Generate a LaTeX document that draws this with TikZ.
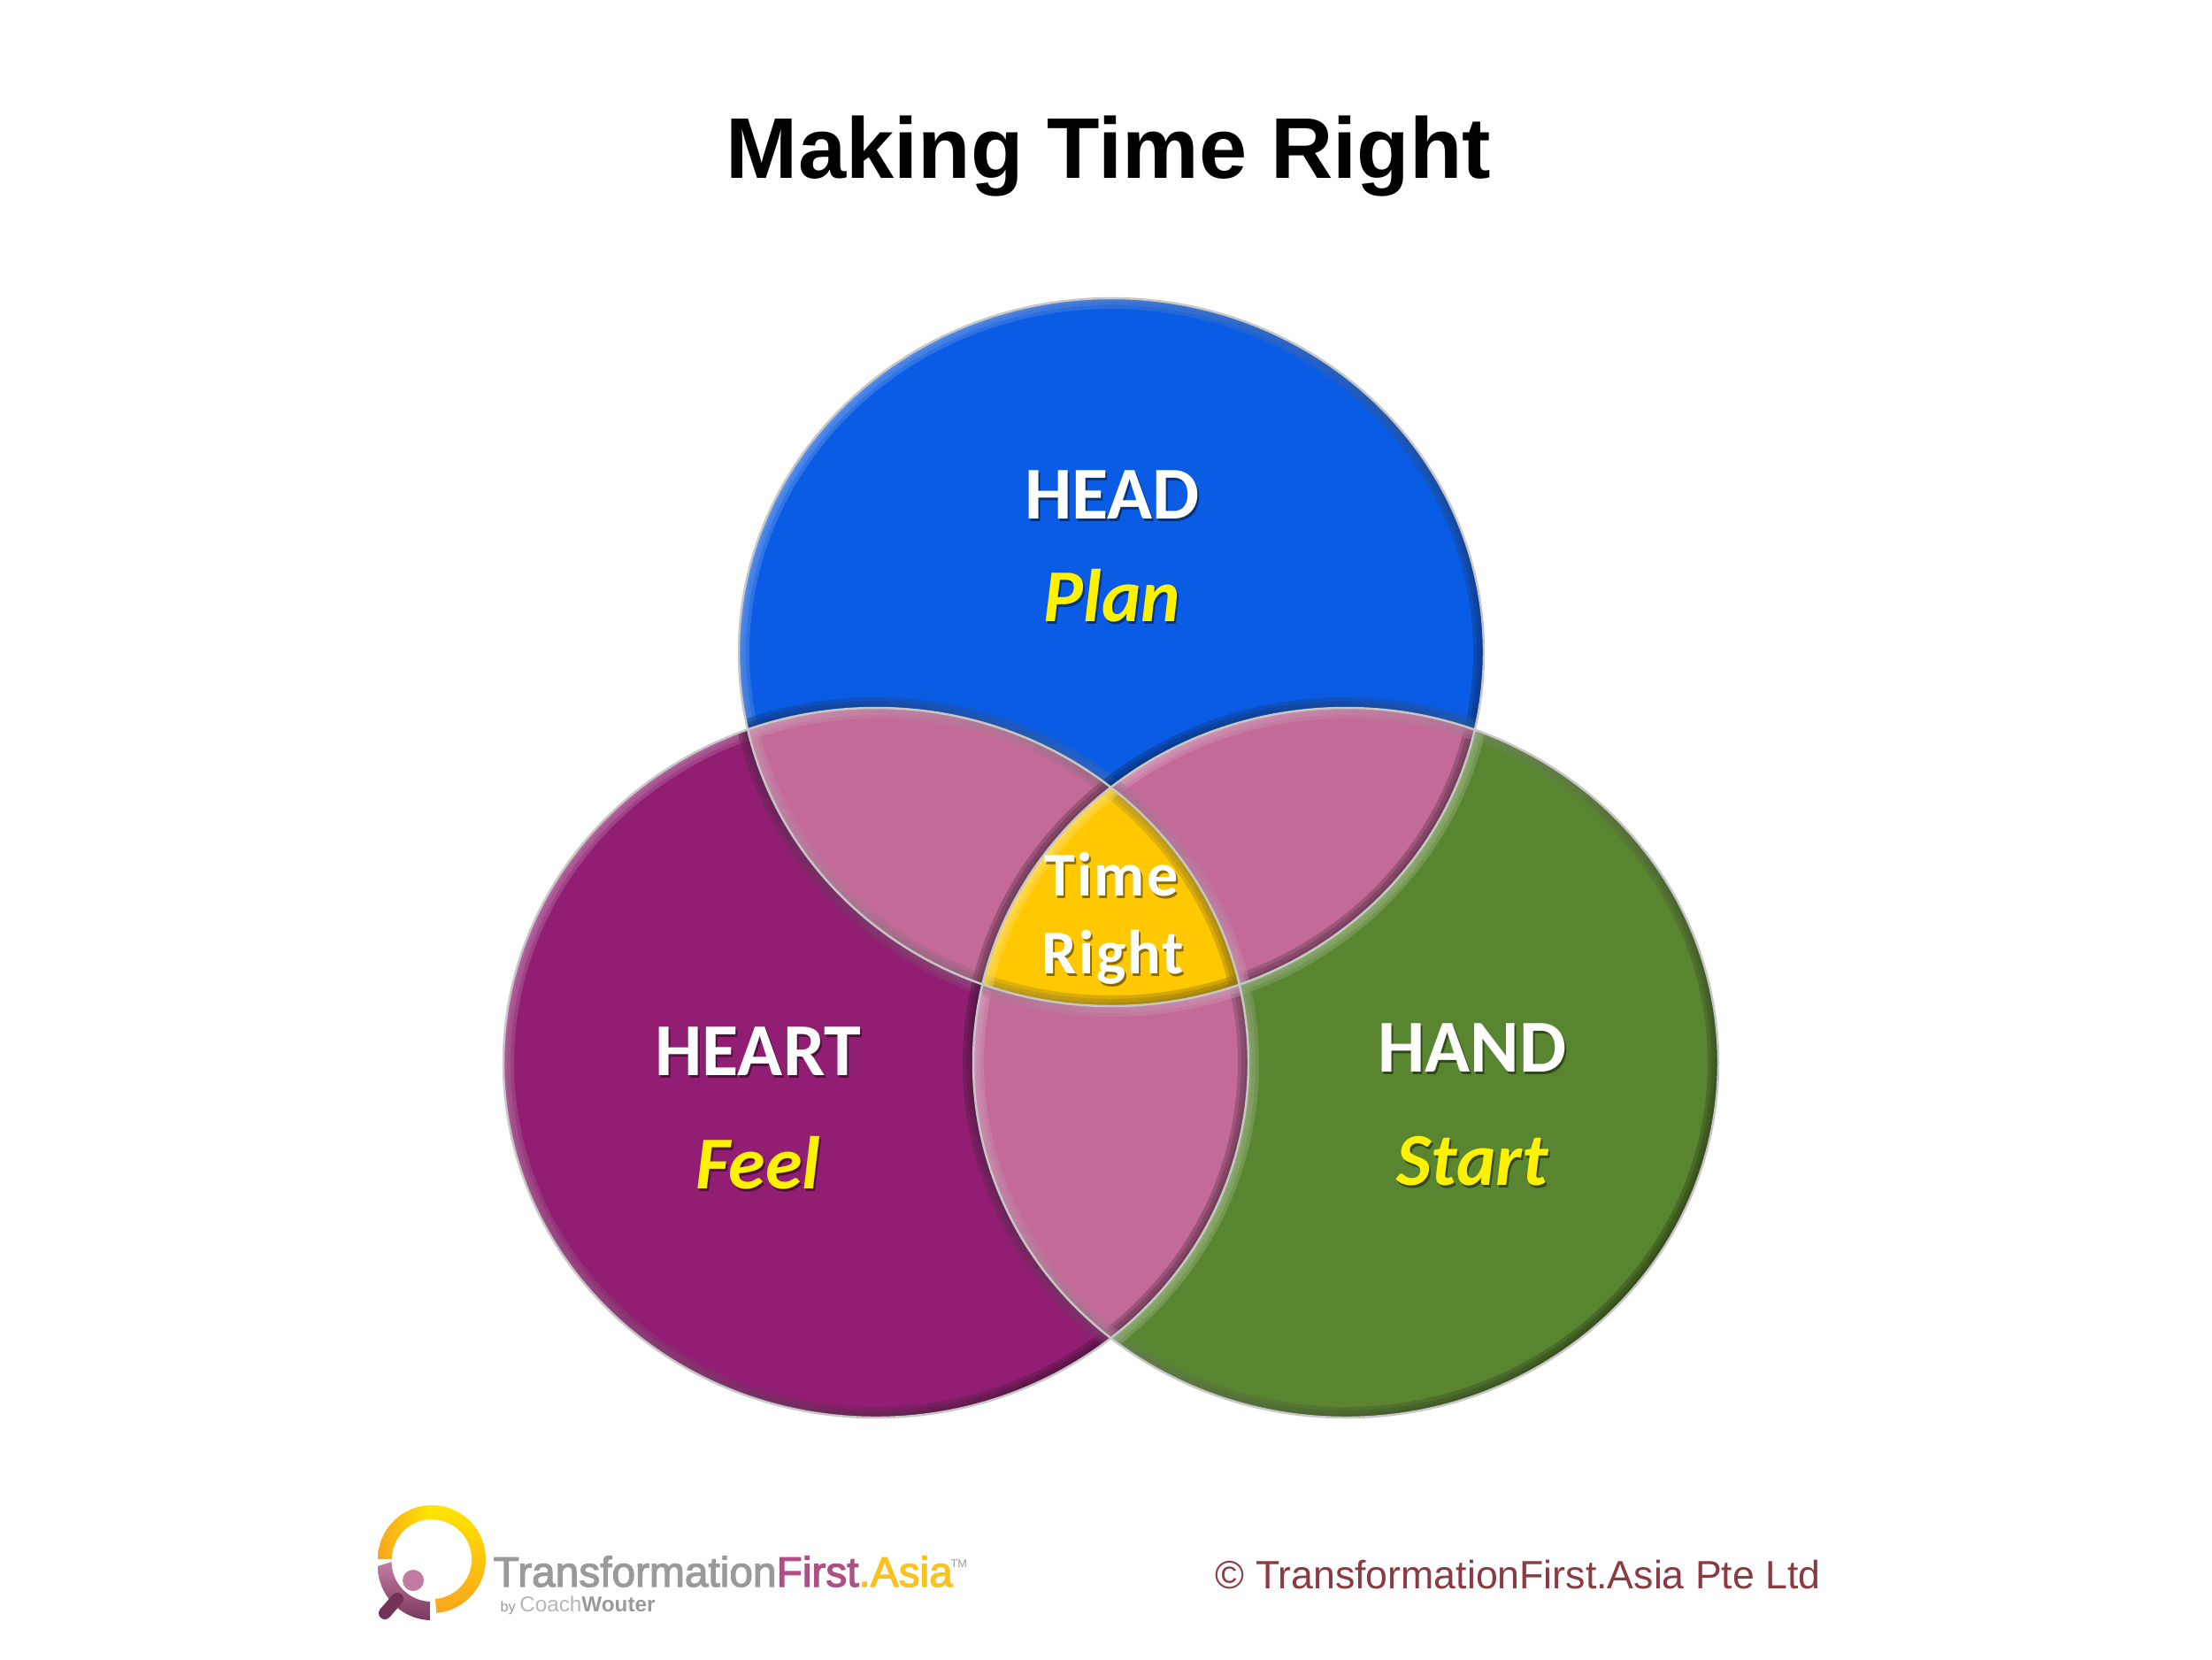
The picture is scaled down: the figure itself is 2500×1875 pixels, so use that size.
\documentclass[tikz,border=0pt]{standalone}
\usepackage{fontspec}
\newfontfamily\arialfont{Liberation Sans}
\newfontfamily\calibrifont{Carlito}
\newfontfamily\centrefont[LetterSpace=3]{Carlito}
\newfontfamily\logofont[FakeBold=2.5]{Liberation Sans}
\usetikzlibrary{arrows}

\definecolor{headblue}{HTML}{0A5CE4}
\definecolor{heartpurple}{HTML}{911E72}
\definecolor{handgreen}{HTML}{5A8530}
\definecolor{overlappink}{HTML}{C46A98}
\definecolor{timeyellow}{HTML}{FFC800}
\definecolor{planyellow}{HTML}{FFF200}
\definecolor{logogrey}{HTML}{9A9A9C}
\definecolor{logopink}{HTML}{B04F85}
\definecolor{logoorange}{HTML}{F9C21E}
\definecolor{ringyellow}{HTML}{FFE600}
\definecolor{ringorange}{HTML}{F9A51E}
\definecolor{copyred}{HTML}{8A3A40}

\tikzset{
	rimlit/.style={left color=#1!62!white, middle color=#1, right color=#1!50!black, shading angle=55, opacity=0.42, even odd rule},
	rimshut/.style={left color=#1!50!black, middle color=#1!80!black, right color=#1!62!white, shading angle=55, opacity=0.42, even odd rule},
	edgeline/.style={draw=black!22!white, line width=0.7pt},
	softshadow/.style={text=black, opacity=0.45, anchor=base},
	softtext/.style={anchor=base},
	mainlabel/.style={font=\calibrifont\bfseries\fontsize{24}{29}\selectfont},
	sublabel/.style={font=\calibrifont\bfseries\itshape\fontsize{24}{29}\selectfont},
	centrelabel/.style={font=\centrefont\bfseries\fontsize{20}{24}\selectfont}
}

% the three lobes, #1 grows or shrinks them
\newcommand{\headpath}[1]{(1256,737) ellipse [x radius=421+#1, y radius=400+#1]}
\newcommand{\heartpath}[1]{(990,1201) ellipse [x radius=421+#1, y radius=401+#1]}
\newcommand{\handpath}[1]{(1521,1201) ellipse [x radius=421+#1, y radius=401+#1]}

\newcommand{\clipin}[1]{\clip #1{0};}
\newcommand{\clipout}[1]{\clip (0,0) rectangle (2500,1875) #1{0};}
\newcommand{\rimin}[1]{\foreach \w in {4,8,12} {\shade[rimlit=\rimcol] #1{0} #1{-\w};}}
\newcommand{\rimout}[1]{\foreach \w in {4,8,12} {\shade[rimshut=\rimcol] #1{\w} #1{0};}}
\newcommand{\lobepatch}[3]{
	\begin{scope}[even odd rule]
		\def\rimcol{#1}
		#2
		\fill[#1] (0,0) rectangle (2500,1875);
		#3
	\end{scope}
}
\newcommand{\softlabel}[4]{
	\node[#3,softshadow] (#1 shadow) at ([shift={(2,3)}]#2) {#4};
	\node[softtext,#3] (#1) at (#2) {#4};
}

\begin{document}
\begin{tikzpicture}[x=0.01cm,y=-0.01cm]
	\useasboundingbox (0,0) rectangle (2500,1875);
	\fill[white] (0,0) rectangle (2500,1875);

	\node[anchor=base,font=\arialfont\bfseries\fontsize{27.7}{33}\selectfont] (title) at (1253,201) {Making Time Right};

	% lobes
	\lobepatch{headblue}{\clipin\headpath \clipout\heartpath \clipout\handpath}{\rimin\headpath \rimout\heartpath \rimout\handpath}
	\lobepatch{heartpurple}{\clipin\heartpath \clipout\headpath \clipout\handpath}{\rimin\heartpath \rimout\headpath \rimout\handpath}
	\lobepatch{handgreen}{\clipin\handpath \clipout\headpath \clipout\heartpath}{\rimin\handpath \rimout\headpath \rimout\heartpath}
	\lobepatch{overlappink}{\clipin\headpath \clipin\heartpath \clipout\handpath}{\rimin\headpath \rimin\heartpath \rimout\handpath}
	\lobepatch{overlappink}{\clipin\headpath \clipin\handpath \clipout\heartpath}{\rimin\headpath \rimin\handpath \rimout\heartpath}
	\lobepatch{overlappink}{\clipin\heartpath \clipin\handpath \clipout\headpath}{\rimin\heartpath \rimin\handpath \rimout\headpath}
	\lobepatch{timeyellow}{\clipin\headpath \clipin\heartpath \clipin\handpath}{\rimin\headpath \rimin\heartpath \rimin\handpath}
	\draw[edgeline] \headpath{0};
	\draw[edgeline] \heartpath{0};
	\draw[edgeline] \handpath{0};

	\softlabel{head}{1257,586}{mainlabel,text=white}{HEAD}
	\softlabel{plan}{1257,702}{sublabel,text=planyellow}{Plan}
	\softlabel{heart}{857,1215}{mainlabel,text=white}{HEART}
	\softlabel{feel}{857,1343}{sublabel,text=planyellow}{Feel}
	\softlabel{hand}{1664,1211}{mainlabel,text=white}{HAND}
	\softlabel{start}{1664,1339}{sublabel,text=planyellow}{Start}
	\softlabel{time}{1256,1012}{centrelabel,text=white}{Time}
	\softlabel{right}{1258,1100}{centrelabel,text=white}{Right}

	% logo
	\shade[left color=ringorange, right color=ringyellow] (427,1762) arc (180:270:61) -- (488,1717) arc (270:180:45) -- cycle;
	\shade[top color=ringyellow, middle color=ringyellow, bottom color=ringorange] (488,1701) arc (270:445:61) -- (492,1807) arc (445:270:45) -- cycle;
	\shade[top color=logopink!75!white, bottom color=logopink!70!black] (427,1770) arc (180:92:61) -- (486,1810) arc (92:180:45) -- cycle;
	\draw[line width=4pt,line cap=round,color=logopink!65!black] (449,1807) -- (435,1823);
	\fill[logopink!75!white] (467,1786) circle (12);

	\node[anchor=base west,inner sep=0pt,font=\logofont\fontsize{13.6}{16}\selectfont] (logotext) at (557,1793) {\textcolor{logogrey}{Transformation}\textcolor{logopink}{First}\textcolor{logoorange}{.Asia}};
	\node[anchor=base west,inner sep=0pt,text=logogrey,font=\arialfont\fontsize{3.6}{4}\selectfont] (logotm) at (1074,1771) {TM};
	\node[anchor=base west,inner sep=0pt,text=logogrey,font=\arialfont\fontsize{6.9}{8}\selectfont] (logoby) at (565,1821) {{\fontsize{4.6}{6}\selectfont by }\textcolor{logogrey!70!white}{Coach}\textbf{Wouter}};

	\node[anchor=base west,inner sep=0pt,text=copyred,font=\arialfont\fontsize{12.7}{15}\selectfont] (copyright) at (1373,1795) {© TransformationFirst.Asia Pte Ltd};
\end{tikzpicture}
\end{document}
